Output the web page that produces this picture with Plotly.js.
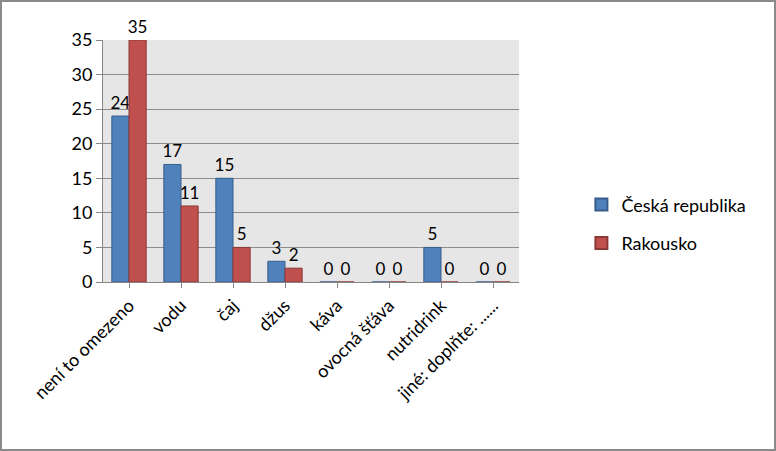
<!DOCTYPE html>
<html>
<head>
<meta charset="utf-8">
<script src="https://cdn.plot.ly/plotly-3.0.1.min.js"></script>
<style>
html,body{margin:0;padding:0;background:#fff;}
#chart{width:776px;height:451px;box-sizing:border-box;border:2px solid #8a8a8a;}
</style>
</head>
<body>
<div id="chart"></div>
<script>
const categories = ["není to omezeno", "vodu", "čaj", "džus", "káva", "ovocná šťáva", "nutridrink", "jiné: doplňte: ......"];
const ceskaRepublika = [24, 17, 15, 3, 0, 0, 5, 0];
const rakousko = [35, 11, 5, 2, 0, 0, 0, 0];
const seriesNames = ["Česká republika", "Rakousko"];
const yTicks = [0, 5, 10, 15, 20, 25, 30, 35];

const font = "Lato, 'Open Sans', sans-serif";

const traces = [
  {
    type: "bar", name: seriesNames[0], legendgroup: "cz", x: categories, y: ceskaRepublika,
    marker: {color: "#4f81bd", line: {color: "#385d8a", width: 1}},
    text: ceskaRepublika.map(String), textposition: "outside", cliponaxis: false,
    constraintext: "none",
    textfont: {family: font, size: 17, color: "#000"}
  },
  {
    type: "bar", name: seriesNames[1], legendgroup: "at", x: categories, y: rakousko,
    marker: {color: "#c0504d", line: {color: "#8c3836", width: 1}},
    text: rakousko.map(String), textposition: "outside", cliponaxis: false,
    constraintext: "none",
    textfont: {family: font, size: 17, color: "#000"}
  }
];

const layout = {
  width: 772, height: 447,
  margin: {l: 101, r: 255, t: 38, b: 167},
  paper_bgcolor: "#ffffff",
  plot_bgcolor: "#e6e6e6",
  barmode: "group",
  bargap: 0.34,
  bargroupgap: 0,
  font: {family: font, size: 17, color: "#000"},
  xaxis: {
    type: "category",
    tickangle: -45,
    tickfont: {family: font, size: 18, color: "#000"},
    showline: true, linecolor: "#868686", linewidth: 1,
    ticks: "outside", ticklen: 5, tickcolor: "#868686",
    showgrid: false, zeroline: false
  },
  yaxis: {
    range: [0, 35],
    tickvals: yTicks,
    ticktext: yTicks.map(String),
    tickfont: {family: font, size: 18, color: "#000"},
    showline: true, linecolor: "#868686", linewidth: 1,
    ticks: "outside", ticklen: 6, tickcolor: "#868686",
    showgrid: true, gridcolor: "#8c8c8c", gridwidth: 1,
    zeroline: false
  },
  legend: {
    x: 1.15, y: 0.24, xanchor: "left", yanchor: "middle",
    font: {family: font, size: 18, color: "#000"},
    traceorder: "grouped",
    tracegroupgap: 12, itemsizing: "constant", itemwidth: 30,
    bgcolor: "rgba(0,0,0,0)"
  },
  showlegend: true
};

Plotly.newPlot("chart", traces, layout, {displayModeBar: false, staticPlot: true});
</script>
</body>
</html>
